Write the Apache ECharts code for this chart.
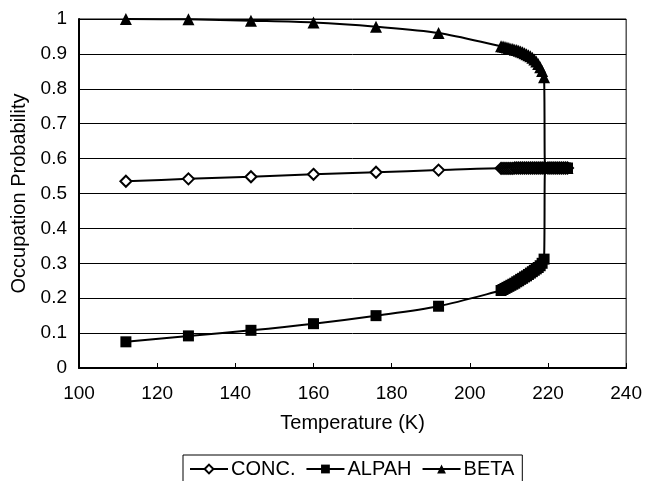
<!DOCTYPE html>
<html>
<head>
<meta charset="utf-8">
<script src="https://cdn.jsdelivr.net/npm/echarts@6/dist/echarts.min.js"></script>
<style>
html,body{margin:0;padding:0;background:#fff;}
#chart{width:645px;height:481px;}
</style>
</head>
<body>
<div id="chart"></div>
<script>
// Temperatures (K)
const temps = [112,128,144,160,176,192,208,
  208.5,209,209.5,210,210.5,211,211.5,212,212.5,213,213.5,214,214.5,215,215.5,216,216.5,217,217.5,218,218.5,219,
  219.3,220,220.5,221,221.5,222,222.5,223,223.5,224,224.5,225];
const conc  = [0.535,0.542,0.548,0.555,0.561,0.567,0.572,
  0.572,0.572,0.572,0.572,0.572,0.572,0.573,0.573,0.573,0.573,0.573,0.573,0.573,0.573,0.573,0.573,0.573,0.573,0.573,0.573,0.573,0.573,
  0.573,0.573,0.573,0.573,0.573,0.573,0.573,0.573,0.573,0.573,0.573,0.573];
const alpha = [0.075,0.092,0.108,0.127,0.150,0.177,0.222,
  0.225,0.228,0.231,0.234,0.237,0.240,0.243,0.247,0.250,0.254,0.257,0.261,0.264,0.268,0.272,0.276,0.280,0.284,0.288,0.293,0.300,0.312,
  0.573,0.573,0.573,0.573,0.573,0.573,0.573,0.573,0.573,0.573,0.573,0.573];
const beta  = [1.000,0.999,0.995,0.990,0.978,0.960,0.922,
  0.921,0.920,0.918,0.917,0.915,0.914,0.912,0.911,0.909,0.907,0.905,0.902,0.899,0.896,0.893,0.889,0.884,0.878,0.871,0.862,0.851,0.833,
  0.573,0.573,0.573,0.573,0.573,0.573,0.573,0.573,0.573,0.573,0.573,0.573];
const seriesNames = ['CONC.','ALPAH','BETA'];

const FONT = 'Liberation Sans';
const pairs = arr => temps.map((t,i)=>[t,arr[i]]);

const chart = echarts.init(document.getElementById('chart'), null, {renderer:'canvas'});
chart.setOption({
  animation:false,
  backgroundColor:'#fff',
  textStyle:{fontFamily:FONT,color:'#000'},
  grid:{left:79,right:18,top:19,bottom:113,show:true,borderColor:'#000',borderWidth:1,backgroundColor:'transparent'},
  xAxis:{
    type:'value',min:100,max:240,interval:20,
    name:'Temperature (K)',nameLocation:'middle',nameGap:45,
    nameTextStyle:{fontFamily:FONT,fontSize:20,color:'#000'},
    axisLine:{show:true,lineStyle:{color:'#000',width:2}},
    axisTick:{show:true,inside:true,length:5,lineStyle:{color:'#000'}},
    axisLabel:{fontFamily:FONT,fontSize:19,color:'#000',margin:16},
    splitLine:{show:false}
  },
  yAxis:{
    type:'value',min:0,max:1,interval:0.1,
    name:'Occupation Probability',nameLocation:'middle',nameGap:49,nameRotate:90,
    nameTextStyle:{fontFamily:FONT,fontSize:20,color:'#000'},
    axisLine:{show:true,lineStyle:{color:'#000',width:2}},
    axisTick:{show:false},
    axisLabel:{fontFamily:FONT,fontSize:19,color:'#000',margin:12,
      formatter:v=>{const r=Math.round(v*10)/10;return String(r);}},
    splitLine:{show:true,lineStyle:{color:'#000',width:1}}
  },
  legend:{
    data:seriesNames,left:183,top:455,
    borderColor:'#000',borderWidth:1,padding:[4,8,8,6],
    itemGap:10,itemWidth:38,itemHeight:11,
    textStyle:{fontFamily:FONT,fontSize:20,color:'#000',padding:[0,0,0,-2]}
  },
  series:[
    {name:'CONC.',type:'line',data:pairs(conc),smooth:0.3,
     symbol:'diamond',symbolSize:11,showAllSymbol:true,
     itemStyle:{color:'#fff',borderColor:'#000',borderWidth:2},
     lineStyle:{color:'#000',width:2},z:3},
    {name:'ALPAH',type:'line',data:pairs(alpha),smooth:0.3,
     symbol:'rect',symbolSize:11,showAllSymbol:true,
     itemStyle:{color:'#000',borderColor:'#000',borderWidth:0},
     lineStyle:{color:'#000',width:2},z:4},
    {name:'BETA',type:'line',data:pairs(beta),smooth:0.3,
     symbol:'triangle',symbolSize:12,showAllSymbol:true,
     itemStyle:{color:'#000',borderColor:'#000',borderWidth:0},
     lineStyle:{color:'#000',width:2},z:2}
  ]
});
</script>
</body>
</html>
